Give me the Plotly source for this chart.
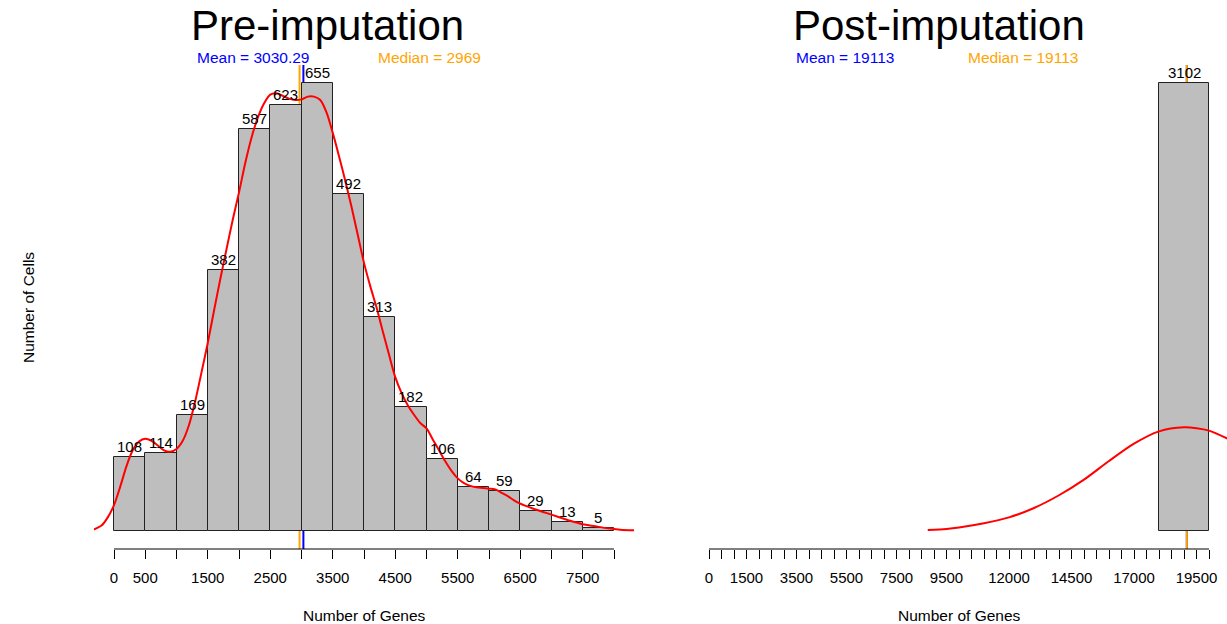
import plotly.graph_objects as go

W, H = 1227, 624

# ---------------- data ----------------
pre_bin_left = [0, 500, 1000, 1500, 2000, 2500, 3000, 3500, 4000, 4500, 5000, 5500, 6000, 6500, 7000, 7500]
pre_counts = [108, 114, 169, 382, 587, 623, 655, 492, 313, 182, 106, 64, 59, 29, 13, 5]
pre_bin_width = 500
pre_mean = 3030.29
pre_median = 2969

pre_density_x = [-330, -200, -100, 0, 100, 200, 300, 400, 500, 600, 700, 800, 900, 1000, 1100, 1200,
                 1300, 1400, 1500, 1600, 1700, 1800, 1900, 2000, 2100, 2200, 2300, 2400, 2500, 2600,
                 2700, 2800, 2900, 3000, 3100, 3200, 3300, 3400, 3500, 3600, 3700, 3800, 3900, 4000,
                 4100, 4200, 4300, 4400, 4500, 4600, 4700, 4800, 4900, 5000, 5100, 5200, 5300, 5400,
                 5500, 5600, 5700, 5800, 5900, 6000, 6100, 6200, 6300, 6400, 6500, 6700, 6900, 7100,
                 7300, 7500, 7700, 7900, 8100, 8330]
pre_density_y = [2, 8, 20, 38, 65, 95, 118, 131, 135, 132, 125, 118, 116, 120, 132, 155,
                 190, 232, 275, 322, 368, 412, 455, 495, 538, 575, 604, 625, 638, 640,
                 636, 632, 630, 631, 635, 635, 630, 612, 582, 548, 512, 474, 433, 392,
                 358, 327, 292, 258, 225, 202, 184, 170, 158, 150, 134, 118, 102, 88,
                 77, 70, 66, 64, 63, 62, 61, 56, 51, 45, 40, 33, 27, 21,
                 15, 10, 7, 4, 2, 1]

post_bin_left = [18000]
post_counts = [3102]
post_bin_width = 2000
post_mean = 19113
post_median = 19113

post_density_x = [8750, 9500, 10000, 11000, 12000, 13000, 14000, 15000, 16000, 17000, 18000, 19000,
                  19500, 20000, 20800]
post_density_y = [7, 15, 25, 54, 95, 160, 248, 356, 485, 605, 690, 718, 712, 695, 635]

pre_tickvals = [0, 500, 1000, 1500, 2000, 2500, 3000, 3500, 4000, 4500, 5000, 5500, 6000, 6500, 7000, 7500, 8000]
pre_ticktext = ["0", "500", "", "1500", "", "2500", "", "3500", "", "4500", "", "5500", "", "6500", "", "7500", ""]
post_tickvals = [i * 500 for i in range(41)]
post_labels = {0: "0", 1500: "1500", 3500: "3500", 5500: "5500", 7500: "7500", 9500: "9500",
               12000: "12000", 14500: "14500", 17000: "17000", 19500: "19500"}
post_ticktext = [post_labels.get(v, "") for v in post_tickvals]

# ---------------- layout helpers ----------------
FONT = "Liberation Sans, Arial, Helvetica, sans-serif"
BAR_FILL = "#BEBEBE"

def px_x(p):
    return p / W

def px_y(p):
    return 1 - p / H

plot_top, plot_bot = 65, 549
left_dom = [px_x(94), px_x(634)]
right_dom = [px_x(689), 1.0]
y_dom = [px_y(plot_bot), px_y(plot_top)]

pre_max = max(pre_counts)
post_max = max(post_counts)
pre_yr = [-0.04 * pre_max, 1.04 * pre_max]
post_yr = [-0.04 * post_max, 1.04 * post_max]

fig = go.Figure()

# bars
fig.add_trace(go.Bar(
    x=[b + pre_bin_width / 2 for b in pre_bin_left], y=pre_counts, width=pre_bin_width,
    marker=dict(color=BAR_FILL, line=dict(color="#222222", width=1)),
    xaxis="x", yaxis="y", hoverinfo="skip", showlegend=False))
fig.add_trace(go.Bar(
    x=[b + post_bin_width / 2 for b in post_bin_left], y=post_counts, width=post_bin_width,
    marker=dict(color=BAR_FILL, line=dict(color="#222222", width=1)),
    xaxis="x2", yaxis="y2", hoverinfo="skip", showlegend=False))

# density curves
fig.add_trace(go.Scatter(x=pre_density_x, y=pre_density_y, mode="lines",
                         line=dict(color="#FF0000", width=2, shape="spline", smoothing=0.8),
                         xaxis="x", yaxis="y", hoverinfo="skip", showlegend=False))
fig.add_trace(go.Scatter(x=post_density_x, y=post_density_y, mode="lines",
                         line=dict(color="#FF0000", width=2, shape="spline", smoothing=0.8),
                         xaxis="x2", yaxis="y2", hoverinfo="skip", showlegend=False))

shapes = []
# mean / median lines (behind bars)
for xv, col, xr, yr, yref in [
    (pre_mean, "#0000FF", "x", pre_yr, "y"),
    (pre_median, "#FFA500", "x", pre_yr, "y"),
    (post_mean, "#0000FF", "x2", post_yr, "y2"),
    (post_median, "#FFA500", "x2", post_yr, "y2"),
]:
    shapes.append(dict(type="line", xref=xr, yref=yref, x0=xv, x1=xv, y0=yr[0], y1=yr[1],
                       line=dict(color=col, width=2), layer="below"))
# axis lines spanning first to last tick (R style)
shapes.append(dict(type="line", xref="x", yref="paper", x0=pre_tickvals[0], x1=pre_tickvals[-1],
                   y0=y_dom[0], y1=y_dom[0], line=dict(color="black", width=1)))
shapes.append(dict(type="line", xref="x2", yref="paper", x0=post_tickvals[0], x1=post_tickvals[-1],
                   y0=y_dom[0], y1=y_dom[0], line=dict(color="black", width=1)))

annotations = []
# bar labels
for b, c in zip(pre_bin_left, pre_counts):
    annotations.append(dict(x=b + pre_bin_width / 2, y=c, xref="x", yref="y", text=str(c),
                            showarrow=False, yanchor="bottom", yshift=0,
                            font=dict(size=15, color="black", family=FONT)))
for b, c in zip(post_bin_left, post_counts):
    annotations.append(dict(x=b + post_bin_width / 2, y=c, xref="x2", yref="y2", text=str(c),
                            showarrow=False, yanchor="bottom", yshift=0,
                            font=dict(size=15, color="black", family=FONT)))

def txt(x, y, s, size, color="black", angle=0):
    annotations.append(dict(x=px_x(x), y=px_y(y), xref="paper", yref="paper", text=s,
                            showarrow=False, xanchor="center", yanchor="middle", textangle=angle,
                            font=dict(size=size, color=color, family=FONT)))

txt(327.5, 26, "Pre-imputation", 42)
txt(938.5, 26, "Post-imputation", 42)
txt(253, 57, "Mean = 3030.29", 15.5, "#0000FF")
txt(429, 57, "Median = 2969", 15.5, "#FFA500")
txt(844.5, 57, "Mean = 19113", 15.5, "#0000FF")
txt(1022.5, 57, "Median = 19113", 15.5, "#FFA500")
txt(364, 615, "Number of Genes", 15.5)
txt(959, 615, "Number of Genes", 15.5)
txt(28, 308, "Number of Cells", 15.5, angle=-90)

xcommon = dict(showgrid=False, zeroline=False, showline=False, ticks="outside", ticklen=9,
               tickwidth=1, tickcolor="black", tickmode="array",
               tickfont=dict(size=15, color="black", family=FONT), ticklabelstandoff=6,
               anchor=None)
ycommon = dict(visible=False, showgrid=False, zeroline=False)

fig.update_layout(
    width=W, height=H,
    margin=dict(l=0, r=0, t=0, b=0),
    paper_bgcolor="white", plot_bgcolor="white",
    bargap=0,
    xaxis=dict(domain=left_dom, range=[-320, 8320], tickvals=pre_tickvals, ticktext=pre_ticktext,
               anchor="y", **{k: v for k, v in xcommon.items() if k != "anchor"}),
    yaxis=dict(domain=y_dom, range=pre_yr, anchor="x", **ycommon),
    xaxis2=dict(domain=right_dom, range=[-800, 20720], tickvals=post_tickvals, ticktext=post_ticktext,
                anchor="y2", **{k: v for k, v in xcommon.items() if k != "anchor"}),
    yaxis2=dict(domain=y_dom, range=post_yr, anchor="x2", **ycommon),
    shapes=shapes,
    annotations=annotations,
    showlegend=False,
)

fig.write_html("out.html")
